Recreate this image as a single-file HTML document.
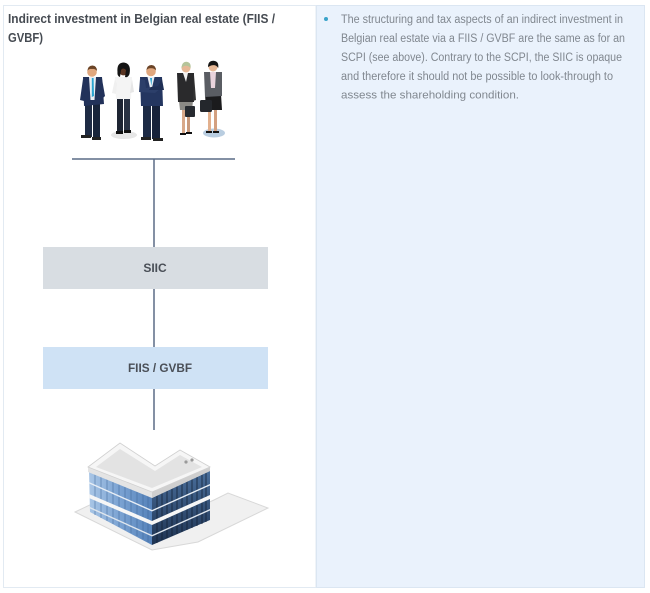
<!DOCTYPE html>
<html>
<head>
<meta charset="utf-8">
<style>
html,body{margin:0;padding:0;background:#fff;width:650px;height:593px;overflow:hidden;}
svg{display:block;}
</style>
</head>
<body>
<svg width="650" height="593" viewBox="0 0 650 593" xmlns="http://www.w3.org/2000/svg">
  <defs>
    <linearGradient id="lf" x1="0" y1="0" x2="1" y2="0">
      <stop offset="0" stop-color="#a9c6e6"/>
      <stop offset="0.5" stop-color="#7aa2d2"/>
      <stop offset="1" stop-color="#5582ba"/>
    </linearGradient>
    <linearGradient id="rf" x1="0" y1="0" x2="0" y2="1">
      <stop offset="0" stop-color="#4a6f9c"/>
      <stop offset="1" stop-color="#1e3352"/>
    </linearGradient>
  </defs>

  <!-- panels -->
  <rect x="3.5" y="5.5" width="312.5" height="582" fill="#ffffff" stroke="#e2eaf2" stroke-width="1"/>
  <rect x="316.5" y="5.5" width="328" height="582" fill="#eaf2fc" stroke="#dbe6f2" stroke-width="1"/>

  <!-- heading -->
  <text x="8" y="23" font-family="Liberation Sans, Arial, sans-serif" font-size="12.5" font-weight="bold" fill="#464b52" textLength="267" lengthAdjust="spacingAndGlyphs">Indirect investment in Belgian real estate (FIIS /</text>
  <text x="8" y="42" font-family="Liberation Sans, Arial, sans-serif" font-size="12.5" font-weight="bold" fill="#464b52" textLength="35" lengthAdjust="spacingAndGlyphs">GVBF)</text>

  <!-- right text -->
  <circle cx="326" cy="19" r="2" fill="#3aa3c9"/>
  <g font-family="Liberation Sans, Arial, sans-serif" font-size="11.5" fill="#80878f">
    <text x="341" y="23" textLength="282" lengthAdjust="spacingAndGlyphs">The structuring and tax aspects of an indirect investment in</text>
    <text x="341" y="42" textLength="284" lengthAdjust="spacingAndGlyphs">Belgian real estate via a FIIS / GVBF are the same as for an</text>
    <text x="341" y="61" textLength="281" lengthAdjust="spacingAndGlyphs">SCPI (see above). Contrary to the SCPI, the SIIC is opaque</text>
    <text x="341" y="80" textLength="272" lengthAdjust="spacingAndGlyphs">and therefore it should not be possible to look-through to</text>
    <text x="341" y="98.5" font-size="11" textLength="178" lengthAdjust="spacingAndGlyphs">assess the shareholding condition.</text>
  </g>

  <!-- people -->
  <g>
    <!-- shadows -->
    <ellipse cx="124" cy="135" rx="13" ry="4" fill="#e6e6e6"/>
    <ellipse cx="214" cy="133" rx="11" ry="4.5" fill="#b9cde0"/>
    <!-- person 1 -->
    <rect x="85" y="104" width="7" height="33" fill="#1e2b44"/>
    <rect x="93" y="104" width="7" height="34" fill="#18243a"/>
    <rect x="81" y="135" width="10" height="3" fill="#222"/>
    <rect x="92" y="137" width="9" height="3" fill="#222"/>
    <path d="M83 77 L102 77 L104 104 L84 106 Z" fill="#22325a"/>
    <path d="M89 77 L96 77 L94.5 100 L90.5 100 Z" fill="#e9eef4"/>
    <path d="M91.8 78 L93.6 78 L94 96 L91.8 97 Z" fill="#2aa4d0"/>
    <path d="M83 79 L80 100 L84 101 L86 84 Z" fill="#22325a"/>
    <path d="M102 79 L105 96 L99 102 L98 97 L100 95 Z" fill="#22325a"/>
    <circle cx="92" cy="72" r="4.8" fill="#e0a77e"/>
    <path d="M87.3 71 Q88 65.5 92.5 65.5 Q97.2 66 96.9 71 Q95 68.5 92 69 Q89 68.5 87.3 71 Z" fill="#6a4326"/>
    <!-- person 2 -->
    <rect x="117" y="98" width="6" height="34" fill="#1e2533"/>
    <rect x="124" y="98" width="6" height="33" fill="#2a3344"/>
    <rect x="116" y="131" width="7" height="3" fill="#111"/>
    <rect x="124" y="130" width="7" height="3" fill="#111"/>
    <path d="M115 77 L132 77 L131 99 L116 99 Z" fill="#f4f4f4"/>
    <path d="M115 79 L112 93 L116 94 L117 84 Z" fill="#f0f0f0"/>
    <path d="M132 79 L134 92 L130 93 Z" fill="#e6e6e6"/>
    <circle cx="123.5" cy="71" r="4.4" fill="#5a3522"/>
    <path d="M117.5 72 Q116.5 62.5 124 62.5 Q131.5 63.5 129.5 74 Q128 78 125 77 L126 70 Q123 67 121 70 L120 77 Q117 76 117.5 72 Z" fill="#141414"/>
    <!-- person 3 -->
    <rect x="143" y="104" width="8" height="34" fill="#1d2a45"/>
    <rect x="152" y="104" width="8" height="35" fill="#17223a"/>
    <rect x="141" y="137" width="10" height="3" fill="#222"/>
    <rect x="153" y="138" width="10" height="3" fill="#222"/>
    <path d="M140 77 L162 77 L163 106 L141 106 Z" fill="#243660"/>
    <path d="M147.5 77 L154.5 77 L152 88 L150 88 Z" fill="#e9eef4"/>
    <path d="M150 78 L152 78 L151.5 86 Z" fill="#2aa4d0"/>
    <path d="M140 79 L139 92 L155 93 L161 88 L157 86 L146 88 L145 80 Z" fill="#2c3f6a"/>
    <path d="M162 79 L164 90 L149 90 L151 87 L158 86 Z" fill="#1f2f55"/>
    <circle cx="151" cy="71.5" r="4.8" fill="#e0a77e"/>
    <path d="M146.3 70.5 Q147 65 151.5 65 Q156.2 65.5 155.9 70.5 Q154 68 151 68.3 Q148 68 146.3 70.5 Z" fill="#6a4326"/>
    <!-- person 4 -->
    <path d="M179 101 L193 101 L192 110 L180 110 Z" fill="#8b8a86"/>
    <rect x="182" y="110" width="3" height="23" fill="#d8a98a"/>
    <rect x="187" y="110" width="3" height="22" fill="#c99a7c"/>
    <rect x="180" y="133" width="6" height="2" fill="#111"/>
    <rect x="186" y="132" width="6" height="2" fill="#111"/>
    <path d="M177 73 L194 73 L194 102 L178 102 Z" fill="#2a2a2c"/>
    <path d="M183 73 L188 73 L186 82 Z" fill="#f2f2f2"/>
    <path d="M194 75 L196 100 L193 101 Z" fill="#333"/>
    <rect x="185" y="106" width="10" height="11" rx="1" fill="#262a30"/>
    <circle cx="186" cy="68" r="4.5" fill="#e6b896"/>
    <path d="M181.4 68 Q182 61.8 186.5 61.8 Q191.2 62.3 190.6 68 Q188 65 184 66 Z" fill="#b5c49a"/>
    <!-- person 5 -->
    <path d="M205 94 L221 94 L222 110 L206 110 Z" fill="#1b1b1d"/>
    <rect x="208" y="110" width="3" height="22" fill="#e2b08e"/>
    <rect x="214" y="110" width="3" height="22" fill="#d3a080"/>
    <rect x="206" y="131" width="6" height="2" fill="#111"/>
    <rect x="213" y="131" width="6" height="2" fill="#111"/>
    <path d="M204 72 L222 72 L222 96 L205 97 Z" fill="#5a5d63"/>
    <path d="M210 72 L216 72 L215 88 L211 88 Z" fill="#e9d3dc"/>
    <rect x="200" y="100" width="12" height="12" rx="1.5" fill="#24272c"/>
    <circle cx="213" cy="67" r="4.5" fill="#e6b896"/>
    <path d="M208 67 Q208 60.8 213.5 60.8 Q219.2 61.3 218.2 68 Q216 64 211 65.5 Z" fill="#151515"/>
  </g>

  <!-- connectors -->
  <g stroke="#5a6b86" stroke-width="1.5">
    <line x1="72" y1="159" x2="235" y2="159"/>
    <line x1="154" y1="159" x2="154" y2="247"/>
    <line x1="154" y1="289" x2="154" y2="347"/>
    <line x1="154" y1="389" x2="154" y2="430"/>
  </g>

  <!-- boxes -->
  <rect x="43" y="247" width="225" height="42" fill="#d8dde2"/>
  <text x="155" y="272" text-anchor="middle" font-family="Liberation Sans, Arial, sans-serif" font-size="12" font-weight="bold" fill="#4a4f57">SIIC</text>
  <rect x="43" y="347" width="225" height="42" fill="#cfe2f5"/>
  <text x="160" y="372" text-anchor="middle" font-family="Liberation Sans, Arial, sans-serif" font-size="12" font-weight="bold" fill="#4a4f57" textLength="64" lengthAdjust="spacingAndGlyphs">FIIS / GVBF</text>

  <!-- building -->
  <g>
    <!-- ground plates -->
    <polygon points="75,512 96,502 152,528 214,500 228,493 268,508 198,542 152,550" fill="#f0f0f0" stroke="#d8d8d8" stroke-width="1"/>
    <!-- faces -->
    <polygon points="89,470 152,497 152,545 90,512" fill="url(#lf)"/>
    <polygon points="152,497 210,470 210,520 152,545" fill="url(#rf)"/>
    <!-- window mullions -->
    <g stroke="#3f6799" stroke-width="0.7" opacity="0.75">
      <line x1="95" y1="473" x2="95" y2="515"/>
      <line x1="101" y1="475" x2="101" y2="518"/>
      <line x1="107" y1="478" x2="107" y2="521"/>
      <line x1="113" y1="480" x2="113" y2="524"/>
      <line x1="119" y1="483" x2="119" y2="527"/>
      <line x1="125" y1="486" x2="125" y2="530"/>
      <line x1="131" y1="488" x2="131" y2="533"/>
      <line x1="137" y1="491" x2="137" y2="536"/>
      <line x1="143" y1="493" x2="143" y2="539"/>
      <line x1="148" y1="495" x2="148" y2="542"/>
    </g>
    <g stroke="#101d30" stroke-width="0.9" opacity="0.8">
      <line x1="157" y1="495" x2="157" y2="543"/>
      <line x1="162" y1="493" x2="162" y2="540"/>
      <line x1="167" y1="490" x2="167" y2="538"/>
      <line x1="172" y1="488" x2="172" y2="536"/>
      <line x1="177" y1="486" x2="177" y2="534"/>
      <line x1="182" y1="483" x2="182" y2="532"/>
      <line x1="187" y1="481" x2="187" y2="530"/>
      <line x1="192" y1="479" x2="192" y2="528"/>
      <line x1="197" y1="476" x2="197" y2="526"/>
      <line x1="202" y1="474" x2="202" y2="524"/>
      <line x1="206" y1="472" x2="206" y2="522"/>
    </g>
    <!-- floor bands -->
    <polygon points="89,482 152,510 210,484 210,485.5 152,511.5 89,483.5" fill="#e8eef5"/>
    <polygon points="89,494 152,521 210,495 210,499 152,525 89,498" fill="#f6f6f6"/>
    <polygon points="90,507 152,535 210,509 210,510.5 152,536.5 90,508.5" fill="#dfe6ee"/>
    <!-- roof -->
    <polygon points="88,467 152,492 210,467 210,471 152,498 88,472" fill="#e4e4e4"/>
    <polygon points="152,492 210,467 210,471 152,498" fill="#cfcfcf"/>
    <polygon points="88,467 120,443 155,466 180,450 210,467 152,492" fill="#f6f6f6" stroke="#d0d0d0" stroke-width="0.8"/>
    <polygon points="96,467 120,449 155,471 180,455 202,467 152,488" fill="#e3e3e3"/>
    <circle cx="186" cy="462" r="1.6" fill="#9a9a9a"/>
    <circle cx="192" cy="460" r="1.6" fill="#9a9a9a"/>
  </g>
</svg>
</body>
</html>
